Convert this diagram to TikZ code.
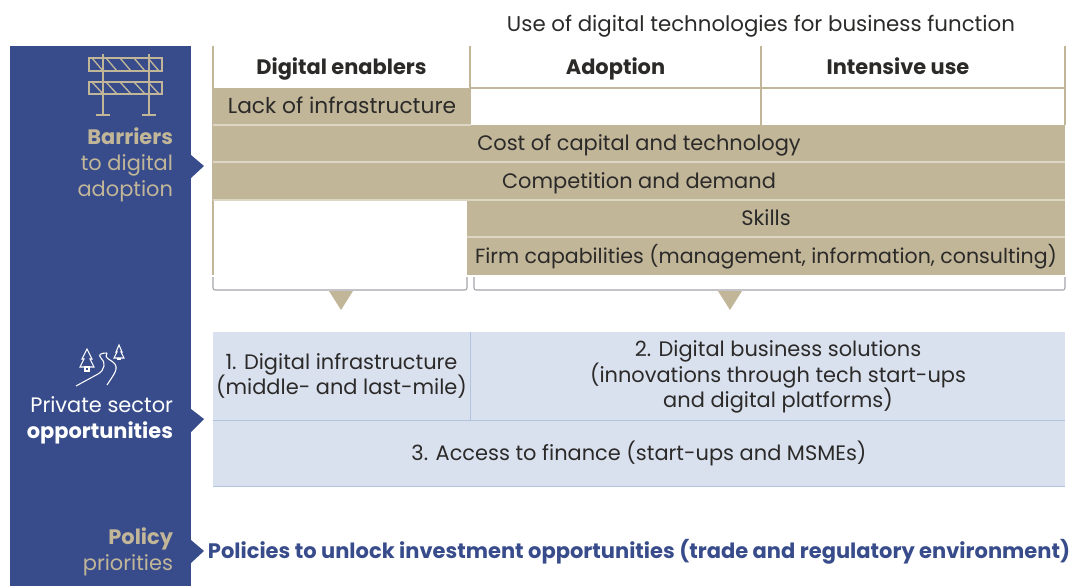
\documentclass[tikz,border=0pt]{standalone}
\usepackage{fontspec}
\setmainfont{Poppins}
\usetikzlibrary{positioning}
\definecolor{cnavy}{RGB}{56,76,139}
\definecolor{ctan}{RGB}{194,182,153}
\definecolor{cpale}{RGB}{222,214,196}
\definecolor{cice}{RGB}{218,225,238}
\definecolor{cedge}{RGB}{176,196,224}
\definecolor{cink}{RGB}{43,42,41}
\definecolor{cgrey}{RGB}{165,165,170}

\begin{document}
\begin{tikzpicture}[x=0.75pt, y=-0.75pt,
    >=stealth,
    cell/.style={rectangle, inner sep=0pt, outer sep=0pt, align=center, text=cink,
                 font=\fontsize{15.7}{19}\selectfont},
    headcell/.style={cell, text height=13pt, text depth=2pt, font=\fontsize{15.7}{19}\selectfont\bfseries},
    tancell/.style={cell, fill=ctan, text height=13pt, text depth=2pt},
    icecell/.style={cell, fill=cice, font=\fontsize{15.7}{19}\selectfont},
    sidetext/.style={rectangle, inner sep=0pt, outer sep=0pt, align=right, anchor=east,
                 font=\fontsize{15.7}{19.5}\selectfont},
    rule/.style={draw=ctan, line width=0.8pt},
    seam/.style={draw=cpale, line width=0.8pt},
    iceline/.style={draw=cedge, line width=0.6pt},
    bracket/.style={draw=cgrey, line width=0.8pt, rounded corners=1.5pt},
  ]
  \useasboundingbox (0,0) rectangle (1076,586);
  % side band
  \fill[cnavy] (10,46) rectangle (191,586);
  \fill[cnavy] (191,155) -- (204,166) -- (191,178) -- cycle;
  \fill[cnavy] (191,409) -- (204,419) -- (191,432) -- cycle;
  \fill[cnavy] (191,540) -- (204,551) -- (191,563) -- cycle;
  % title
  \node[cell, font=\fontsize{16}{19}\selectfont] (title) at (761,26) {Use of digital technologies for business function};
  % header row
  \node[headcell, minimum width=192.75pt, minimum height=31.5pt] (enablers) at (341.5,67) {Digital enablers};
  \node[headcell, minimum width=218.25pt, minimum height=31.5pt] (adoption) at (615.5,67) {Adoption};
  \node[headcell, minimum width=205.5pt, minimum height=31.5pt] (intensive) at (898,67) {Intensive use};
  \node[cell, minimum width=218.25pt, minimum height=27.75pt] (blankb) at (615.5,106.5) {};
  \node[cell, minimum width=228pt, minimum height=27.75pt] (blankc) at (913,106.5) {};
  \draw[rule] (adoption.north east) -- (blankb.south east);
  \draw[rule] (adoption.north west) -- (blankb.south west);
  \draw[rule] (blankc.north east |- intensive.north) -- (blankc.south east);
  \draw[rule] (blankb.north west) -- (blankc.north east);
  \draw[rule, line width=1pt] (213,46) -- (213,275);
  % barriers
  \node[tancell, minimum width=193.5pt, minimum height=27.75pt, font=\fontsize{16.3}{19}\selectfont] (lack) at (342,106.5) {Lack of infrastructure};
  \node[tancell, minimum width=639pt, minimum height=27.75pt] (cost) at (639,143.5) {Cost of capital and technology};
  \node[tancell, minimum width=639pt, minimum height=28.5pt] (competition) at (639,181) {Competition and demand};
  \node[tancell, minimum width=448.5pt, minimum height=27.75pt] (skills) at (766,218.5) {Skills};
  \node[tancell, minimum width=448.5pt, minimum height=28.5pt, font=\fontsize{15.4}{19}\selectfont] (firm) at (766,256) {Firm capabilities (management, information, consulting)};
  \draw[seam] (cost.south west) -- (cost.south east);
  \draw[seam] (competition.south west) -- (competition.south east);
  \draw[seam] (skills.south west) -- (skills.south east);
  \draw[seam] (lack.south west) -- (lack.south east);
  % brackets
  \draw[bracket] (213,277) -- (213,290) -- (467,290) -- (467,277);
  \draw[bracket] (474,277) -- (474,290) -- (1065,290) -- (1065,277);
  \fill[ctan] (329,291) -- (353,291) -- (341,310) -- cycle;
  \fill[ctan] (718,291) -- (742,291) -- (730,310) -- cycle;
  % opportunities
  \node[icecell, minimum width=192.75pt, minimum height=66pt] (infra) at (341.5,376) {1. Digital infrastructure\\(middle- and last-mile)};
  \node[icecell, minimum width=430.5pt, minimum height=67.5pt] (solutions) at (778,377) {2. Digital business solutions\\(innovations through tech start-ups\\and digital platforms)};
  \fill[cice] (infra.north east) rectangle (solutions.south west);
  \node[icecell, minimum width=639pt, minimum height=49.5pt] (finance) at (639,453) {3. Access to finance (start-ups and MSMEs)};
  \draw[iceline] (infra.north east) -- (infra.south east);
  \draw[iceline] (finance.north west) -- (finance.north east);
  \draw[iceline] (finance.south west) -- (finance.south east);
  % policy
  \node[cell, text=cnavy, font=\fontsize{15.75}{19}\selectfont\bfseries] (policies) at (639,552) {Policies to unlock investment opportunities (trade and regulatory environment)};
  % side labels
  \node[sidetext, text=ctan] (barriers) at (173,165) {\textbf{Barriers}\\to digital\\adoption};
  \node[sidetext, text=white] (private) at (173,420) {Private sector\\\textbf{opportunities}};
  \node[sidetext, text=ctan] (priorities) at (173,552) {\textbf{Policy}\\priorities};
  % barrier icon
  \begin{scope}[ctan, line width=1pt]
    \draw (89,58) rectangle (162,71);
    \draw (89,82) rectangle (162,94);
    \draw (103,54) -- (103,115) (149,54) -- (149,115);
    \draw (96,115) -- (110,115) (142,115) -- (156,115);
    \foreach \xo in {0,14,28,42,56} {
      \draw (92+\xo,58) -- (103+\xo,71);
      \draw (92+\xo,82) -- (103+\xo,94);
    }
  \end{scope}
  % road icon
  \begin{scope}[white, line width=0.8pt]
    \draw (87,349) -- (82,359) -- (84,359) -- (80,367) -- (94,367) -- (90,359) -- (92,359) -- cycle;
    \draw (85,367) rectangle (89,371);
    \draw (119,345) -- (116,352) -- (117,352) -- (114,358) -- (124,358) -- (121,352) -- (122,352) -- cycle;
    \draw (118,358) -- (118,360) (120,358) -- (120,360);
    \draw (76,386) -- (98,374) .. controls (105,370) and (106,362) .. (101,358) .. controls (98,355) and (100,353) .. (107,353);
    \draw (107,385) .. controls (114,374) and (120,368) .. (113,362) .. controls (109,359) and (104,358) .. (107,353);
  \end{scope}
\end{tikzpicture}
\end{document}
